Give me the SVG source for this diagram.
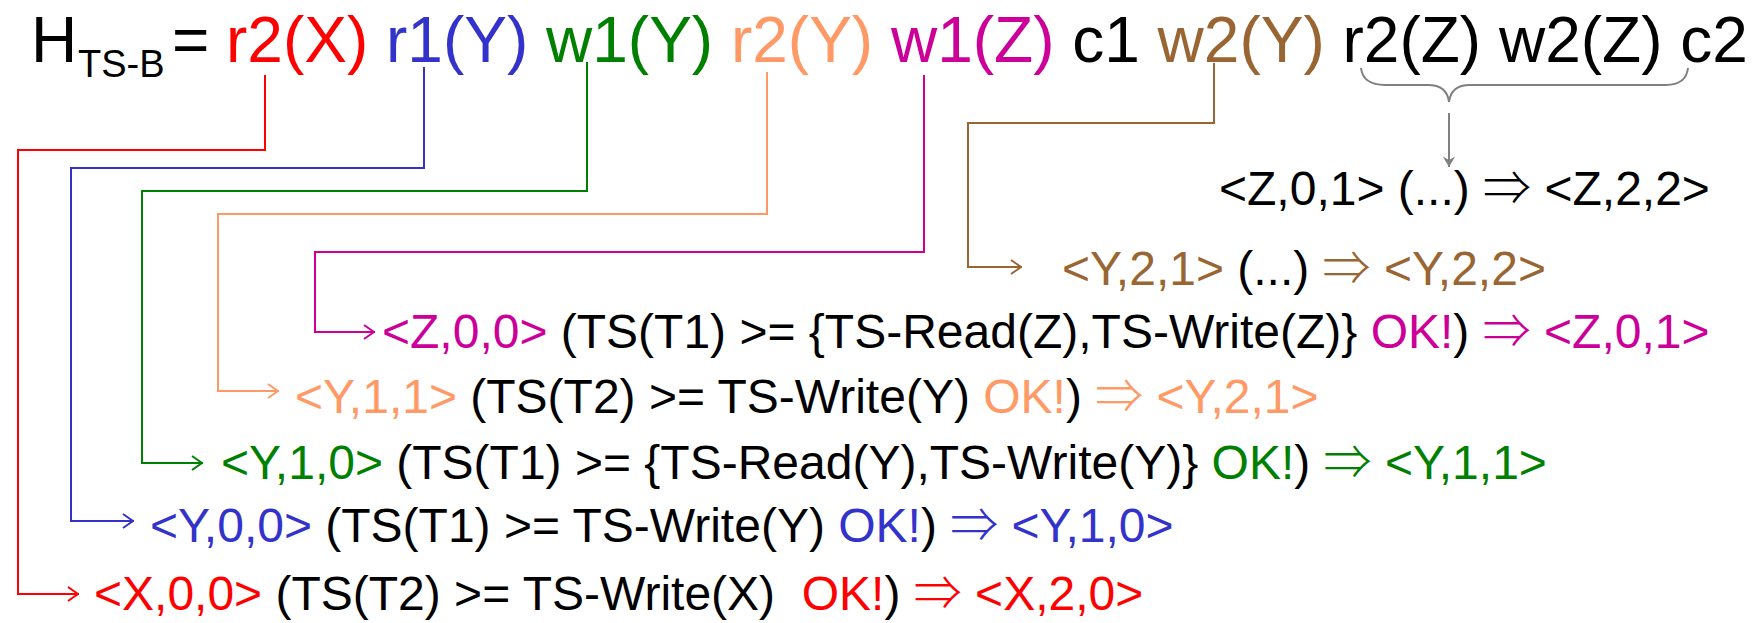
<svg xmlns="http://www.w3.org/2000/svg" width="1760" height="623" viewBox="0 0 1760 623">
  <style>
    text { font-family: "Liberation Sans", "DejaVu Sans", Arial, sans-serif; white-space: pre; fill: #000; }
    .hdr { font-size: 64px; }
    .sub { font-size: 38px; }
    .row { font-size: 48px; }
    .imp { font-family: "Noto Sans CJK JP", "DejaVu Sans", sans-serif; font-weight: 300; }
    .red { fill: #ff0000; }
    .blue { fill: #3333cc; }
    .green { fill: #008000; }
    .orange { fill: #ff9966; }
    .magenta { fill: #cc0099; }
    .brown { fill: #996633; }
    .link { fill: none; stroke-width: 2; }
    .l-red { stroke: #ff0000; }
    .l-blue { stroke: #3333cc; }
    .l-green { stroke: #008000; }
    .l-orange { stroke: #ff9966; }
    .l-magenta { stroke: #cc0099; }
    .l-brown { stroke: #996633; }
  </style>
  <defs>
    <marker id="ah-red" viewBox="0 0 12 16" refX="12" refY="8" markerWidth="12" markerHeight="16" markerUnits="userSpaceOnUse" orient="auto">
      <path d="M1,1 L11,8 L1,15" fill="none" stroke="#ff0000" stroke-width="2"/>
    </marker>
    <marker id="ah-blue" viewBox="0 0 12 16" refX="12" refY="8" markerWidth="12" markerHeight="16" markerUnits="userSpaceOnUse" orient="auto">
      <path d="M1,1 L11,8 L1,15" fill="none" stroke="#3333cc" stroke-width="2"/>
    </marker>
    <marker id="ah-green" viewBox="0 0 12 16" refX="12" refY="8" markerWidth="12" markerHeight="16" markerUnits="userSpaceOnUse" orient="auto">
      <path d="M1,1 L11,8 L1,15" fill="none" stroke="#008000" stroke-width="2"/>
    </marker>
    <marker id="ah-orange" viewBox="0 0 12 16" refX="12" refY="8" markerWidth="12" markerHeight="16" markerUnits="userSpaceOnUse" orient="auto">
      <path d="M1,1 L11,8 L1,15" fill="none" stroke="#ff9966" stroke-width="2"/>
    </marker>
    <marker id="ah-magenta" viewBox="0 0 12 16" refX="12" refY="8" markerWidth="12" markerHeight="16" markerUnits="userSpaceOnUse" orient="auto">
      <path d="M1,1 L11,8 L1,15" fill="none" stroke="#cc0099" stroke-width="2"/>
    </marker>
    <marker id="ah-brown" viewBox="0 0 12 16" refX="12" refY="8" markerWidth="12" markerHeight="16" markerUnits="userSpaceOnUse" orient="auto">
      <path d="M1,1 L11,8 L1,15" fill="none" stroke="#996633" stroke-width="2"/>
    </marker>
    <marker id="ah-gray" viewBox="0 0 12 16" refX="12" refY="8" markerWidth="12" markerHeight="14" markerUnits="userSpaceOnUse" orient="auto">
      <path d="M0,1 L12,8 L0,15 L4,8 Z" fill="#808080"/>
    </marker>
  </defs>

  <rect width="1760" height="623" fill="#ffffff"/>

  <!-- history line -->
  <g id="history">
    <text class="hdr" x="31" y="62">H</text>
    <text class="sub" x="78" y="77">TS-B</text>
    <text class="hdr" x="172" y="62">=</text>
    <text class="hdr" x="226" y="62"><tspan class="red">r2(X)</tspan> <tspan class="blue">r1(Y)</tspan> <tspan class="green">w1(Y)</tspan> <tspan class="orange">r2(Y)</tspan> <tspan class="magenta">w1(Z)</tspan> c1 <tspan class="brown">w2(Y)</tspan> r2(Z) w2(Z) c2</text>
  </g>

  <!-- connectors from each operation down to its timestamp line -->
  <g id="connectors">
    <path class="link l-red" d="M265,75 V150 H18 V594 H79" marker-end="url(#ah-red)"/>
    <path class="link l-blue" d="M424,67 V168 H71 V521 H134" marker-end="url(#ah-blue)"/>
    <path class="link l-green" d="M587,62 V191 H142 V463 H203" marker-end="url(#ah-green)"/>
    <path class="link l-orange" d="M767,72 V214 H218 V391 H279" marker-end="url(#ah-orange)"/>
    <path class="link l-magenta" d="M924,75 V252 H315 V332 H375" marker-end="url(#ah-magenta)"/>
    <path class="link l-brown" d="M1214,63 V123 H968 V267 H1022" marker-end="url(#ah-brown)"/>
    <path id="brace" fill="none" stroke="#808080" stroke-width="2" d="M1361,68 Q1363,85 1385,85 H1428 Q1447,85 1449,102 Q1451,85 1470,85 H1666 Q1686,85 1688,68"/>
    <path fill="none" stroke="#808080" stroke-width="2" d="M1449,113 V167" marker-end="url(#ah-gray)"/>
  </g>

  <!-- timestamp transitions -->
  <g id="row-z01">
    <text class="row" x="1219" y="205">&lt;Z,0,1&gt; (...) <tspan class="imp">⇒</tspan> &lt;Z,2,2&gt;</text>
  </g>
  <g id="row-y21">
    <text class="row" x="1062" y="285"><tspan class="brown">&lt;Y,2,1&gt;</tspan> (...) <tspan class="brown imp">⇒</tspan><tspan class="brown"> &lt;Y,2,2&gt;</tspan></text>
  </g>
  <g id="row-z00">
    <text class="row" x="382" y="348"><tspan class="magenta">&lt;Z,0,0&gt;</tspan> (TS(T1) &gt;= {TS-Read(Z),TS-Write(Z)} <tspan class="magenta">OK!</tspan>) <tspan class="magenta imp">⇒</tspan><tspan class="magenta"> &lt;Z,0,1&gt;</tspan></text>
  </g>
  <g id="row-y11">
    <text class="row" x="295" y="413"><tspan class="orange">&lt;Y,1,1&gt;</tspan> (TS(T2) &gt;= TS-Write(Y) <tspan class="orange">OK!</tspan>) <tspan class="orange imp">⇒</tspan><tspan class="orange"> &lt;Y,2,1&gt;</tspan></text>
  </g>
  <g id="row-y10">
    <text class="row" x="221" y="479"><tspan class="green">&lt;Y,1,0&gt;</tspan> (TS(T1) &gt;= {TS-Read(Y),TS-Write(Y)} <tspan class="green">OK!</tspan>) <tspan class="green imp">⇒</tspan><tspan class="green"> &lt;Y,1,1&gt;</tspan></text>
  </g>
  <g id="row-y00">
    <text class="row" x="150" y="542"><tspan class="blue">&lt;Y,0,0&gt;</tspan> (TS(T1) &gt;= TS-Write(Y) <tspan class="blue">OK!</tspan>) <tspan class="blue imp">⇒</tspan><tspan class="blue"> &lt;Y,1,0&gt;</tspan></text>
  </g>
  <g id="row-x00">
    <text class="row" x="94" y="610"><tspan class="red">&lt;X,0,0&gt;</tspan> (TS(T2) &gt;= TS-Write(X)  <tspan class="red">OK!</tspan>) <tspan class="red imp">⇒</tspan><tspan class="red"> &lt;X,2,0&gt;</tspan></text>
  </g>
</svg>
